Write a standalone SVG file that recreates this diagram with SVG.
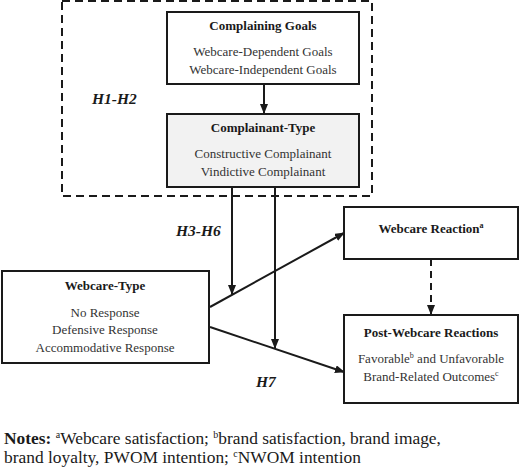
<svg xmlns="http://www.w3.org/2000/svg" width="520" height="470" viewBox="0 0 520 470">
<defs>
<marker id="ah" markerWidth="10" markerHeight="8" refX="9" refY="4" orient="auto" markerUnits="userSpaceOnUse">
<path d="M0,0 L10,4 L0,8 Z" fill="#1a1a1a"/>
</marker>
</defs>
<style>
text{font-family:"Liberation Serif","Times New Roman",serif;fill:#1a1a1a;}
.t{font-size:13px;font-weight:bold;text-anchor:middle;}
.b{font-size:13px;text-anchor:middle;fill:#333;}
.h{font-size:15.5px;font-weight:bold;font-style:italic;}
.box{fill:#fff;stroke:#1a1a1a;stroke-width:2;}
.ln{stroke:#1a1a1a;stroke-width:2;fill:none;}
.sup{font-size:8px;}
.nt{font-size:17.4px;}
.ns{font-size:10px;}
</style>
<rect x="62" y="1" width="310" height="195" fill="none" stroke="#1a1a1a" stroke-width="2" stroke-dasharray="8,5"/>
<text class="h" x="92" y="104">H1-H2</text>
<text class="h" x="176" y="236">H3-H6</text>
<text class="h" x="256" y="387">H7</text>
<g id="connectors">
<line class="ln" x1="264" y1="84" x2="264" y2="113" marker-end="url(#ah)"/>
<line class="ln" x1="232" y1="187" x2="232" y2="294" marker-end="url(#ah)"/>
<line class="ln" x1="275" y1="187" x2="275" y2="348" marker-end="url(#ah)"/>
<line class="ln" x1="210" y1="307" x2="344" y2="233" marker-end="url(#ah)"/>
<line class="ln" x1="210" y1="327" x2="344" y2="372" marker-end="url(#ah)"/>
<line class="ln" x1="431" y1="259" x2="431" y2="314" stroke-dasharray="7,5" marker-end="url(#ah)"/>
</g>
<g id="goals">
<rect class="box" x="167" y="12" width="192" height="72"/>
<text class="t" x="263" y="30">Complaining Goals</text>
<text class="b" x="263" y="56">Webcare-Dependent Goals</text>
<text class="b" x="263" y="74">Webcare-Independent Goals</text>
</g>
<g id="complainant">
<rect class="box" x="167" y="114" width="192" height="73" style="fill:#f2f2f2"/>
<text class="t" x="263" y="132">Complainant-Type</text>
<text class="b" x="263" y="158">Constructive Complainant</text>
<text class="b" x="263" y="176">Vindictive Complainant</text>
</g>
<g id="webcaretype">
<rect class="box" x="2" y="271" width="207" height="92"/>
<text class="t" x="105" y="290">Webcare-Type</text>
<text class="b" x="105" y="317">No Response</text>
<text class="b" x="105" y="334">Defensive Response</text>
<text class="b" x="105" y="352">Accommodative Response</text>
</g>
<g id="reaction">
<rect class="box" x="344" y="207" width="174" height="52"/>
<text class="t" x="431" y="233">Webcare Reaction<tspan class="sup" dy="-5">a</tspan></text>
</g>
<g id="post">
<rect class="box" x="344" y="315" width="174" height="88"/>
<text class="t" x="431" y="337">Post-Webcare Reactions</text>
<text class="b" x="431" y="363">Favorable<tspan class="sup" dy="-5">b</tspan><tspan dy="5"> and Unfavorable</tspan></text>
<text class="b" x="431" y="381">Brand-Related Outcomes<tspan class="sup" dy="-5">c</tspan></text>
</g>
<g id="notes">
<text class="nt" x="4" y="444"><tspan font-weight="bold">Notes:</tspan> <tspan class="ns" dy="-6">a</tspan><tspan dy="6">Webcare satisfaction; </tspan><tspan class="ns" dy="-6">b</tspan><tspan dy="6">brand satisfaction, brand image,</tspan></text>
<text class="nt" x="4" y="463">brand loyalty, PWOM intention; <tspan class="ns" dy="-6">c</tspan><tspan dy="6">NWOM intention</tspan></text>
</g>
</svg>
